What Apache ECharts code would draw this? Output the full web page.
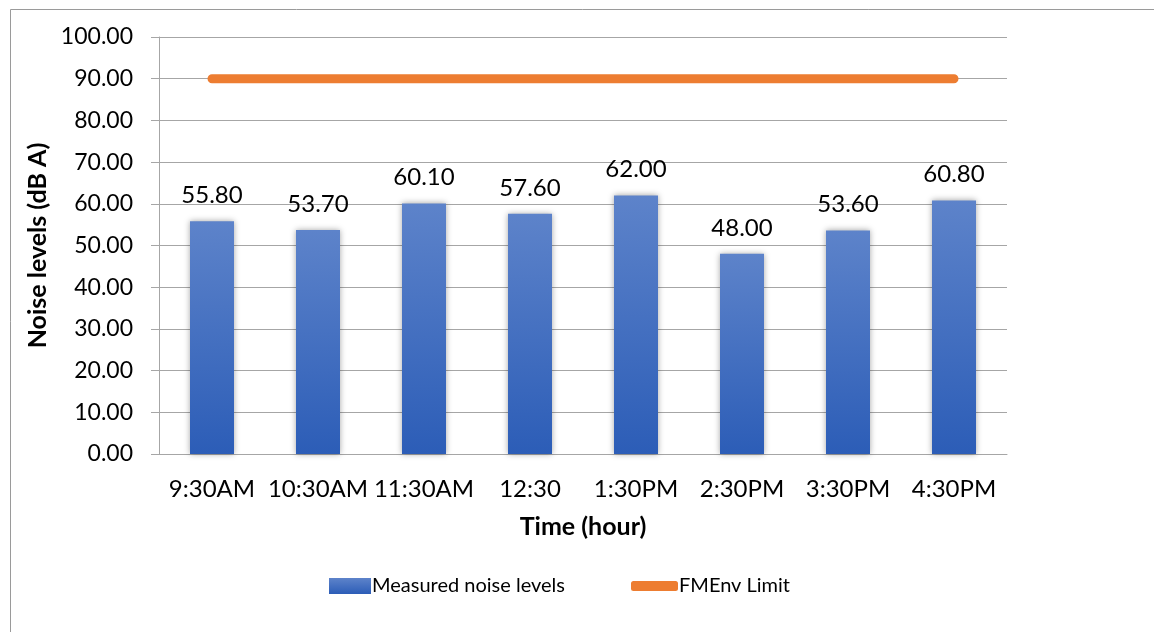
<!DOCTYPE html>
<html><head><meta charset="utf-8">
<script src="https://cdn.jsdelivr.net/npm/echarts@6/dist/echarts.min.js"></script>
<style>html,body{margin:0;padding:0;background:#fff}#c{width:1154px;height:632px}</style>
</head><body><div id="c"></div>
<script>
const categories = ['9:30AM','10:30AM','11:30AM','12:30','1:30PM','2:30PM','3:30PM','4:30PM'];
const measured = [55.8, 53.7, 60.1, 57.6, 62.0, 48.0, 53.6, 60.8];
const limit = [90, 90, 90, 90, 90, 90, 90, 90];
const yTicks = {min: 0, max: 100, interval: 10};

const F = 'Lato';
const chart = echarts.init(document.getElementById('c'));
chart.setOption({
  animation: false,
  textStyle: {fontFamily: F},
  graphic: [{type: 'rect', left: 8, top: 7, shape: {width: 1160, height: 640}, style: {fill: 'none', stroke: '#9a9a9a', lineWidth: 1}, silent: true}],
  grid: {left: 159, right: 147, top: 37, bottom: 178},
  legend: [
    {data: ['Measured noise levels'], left: 324, top: 571, icon: 'rect', itemWidth: 42, itemHeight: 16, itemGap: 0,
     textStyle: {fontFamily: F, fontSize: 20, color: '#000', padding: [0,0,0,-4]}},
    {data: ['FMEnv Limit'], left: 626, top: 571, icon: 'roundRect', itemWidth: 47, itemHeight: 10, itemGap: 0,
     textStyle: {fontFamily: F, fontSize: 20, color: '#000', padding: [0,0,0,-4]}}
  ],
  xAxis: {
    type: 'category', data: categories,
    name: 'Time (hour)', nameLocation: 'middle', nameGap: 60,
    nameTextStyle: {fontFamily: F, fontSize: 25, fontWeight: 'bold', color: '#000'},
    axisLine: {lineStyle: {color: '#a6a6a6', width: 1}},
    axisTick: {show: false},
    axisLabel: {interval: 0, margin: 23, fontFamily: F, fontSize: 24, color: '#000'}
  },
  yAxis: {
    type: 'value', min: yTicks.min, max: yTicks.max, interval: yTicks.interval,
    name: 'Noise levels (dB A)', nameLocation: 'middle', nameGap: 106, nameRotate: 90,
    nameTextStyle: {fontFamily: F, fontSize: 25, fontWeight: 'bold', color: '#000'},
    axisLine: {show: true, lineStyle: {color: '#a6a6a6', width: 1}},
    axisTick: {show: true, inside: false, length: 8, lineStyle: {color: '#a6a6a6'}},
    splitLine: {lineStyle: {color: '#a6a6a6', width: 1}},
    axisLabel: {margin: 26, fontFamily: F, fontSize: 23, color: '#000', formatter: v => v.toFixed(2)}
  },
  series: [
    {name: 'Measured noise levels', type: 'bar', data: measured, barWidth: 44,
     itemStyle: {
       color: new echarts.graphic.LinearGradient(0, 0, 0, 1, [{offset: 0, color: '#5d83ca'}, {offset: 1, color: '#2c5db7'}]),
       shadowBlur: 6, shadowColor: 'rgba(0,0,0,0.35)', shadowOffsetX: 0, shadowOffsetY: 0
     },
     label: {show: true, position: 'top', distance: 14, fontFamily: F, fontSize: 24, color: '#000', formatter: p => p.value.toFixed(2)}
    },
    {name: 'FMEnv Limit', type: 'line', data: limit, symbol: 'none', showSymbol: false,
     itemStyle: {color: '#ed7d31'},
     lineStyle: {color: '#ed7d31', width: 9, cap: 'round'}
    }
  ]
});
</script></body></html>
